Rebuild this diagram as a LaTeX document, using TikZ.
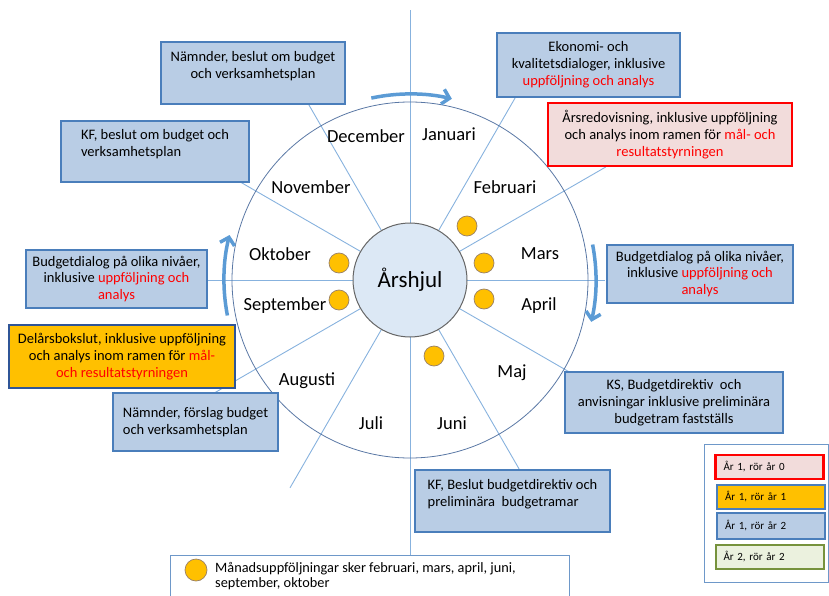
\documentclass[tikz,border=0pt]{standalone}
\usepackage{fontspec}
\setmainfont{Carlito}
\usepackage{xcolor}
\usepackage{tikz}
\usetikzlibrary{arrows.meta}
\definecolor{boxfill}{RGB}{185,205,229}
\definecolor{boxedge}{RGB}{74,126,187}
\definecolor{spokeblue}{RGB}{135,178,222}
\definecolor{rimblue}{RGB}{90,120,165}
\definecolor{hubfill}{RGB}{220,232,245}
\definecolor{dotorange}{RGB}{255,192,0}
\definecolor{pinkfill}{RGB}{242,220,219}
\definecolor{greenfill}{RGB}{235,241,222}
\definecolor{greenedge}{RGB}{118,146,60}
\definecolor{arrowblue}{RGB}{91,155,213}
\definecolor{navyedge}{RGB}{47,85,151}
\tikzset{bluebox/.style={draw=boxedge, fill=boxfill, line width=2pt, inner sep=4pt, align=center,
  font=\fontsize{14.5}{16.8}\selectfont},
redbox/.style={bluebox, draw=red, fill=pinkfill, line width=2.5pt},
orangebox/.style={bluebox, draw=navyedge, fill=dotorange},
legbox/.style={bluebox, line width=2pt, align=left, font=\fontsize{11}{13}\selectfont,
  text width=92pt, inner xsep=8pt, minimum height=24pt},
month/.style={font=\fontsize{18.5}{20}\selectfont},
spoke/.style={draw=spokeblue, line width=0.9pt},
mdot/.style={circle, draw=gray!60!brown, fill=dotorange, minimum size=20pt, inner sep=0pt, line width=0.7pt},
flow/.style={draw=arrowblue, line width=3.5pt, -{Straight Barb[length=7pt,width=15pt]}}}
\begin{document}
\begin{tikzpicture}[x=1pt, y=-1pt]
\useasboundingbox (0,0) rectangle (829,596);
\coordinate (c) at (410,280);
% spokes of the wheel
\foreach \ang/\len in {0/195, 30/226, 60/211, 90/270, 120/204, 150/208,
  180/203, 210/230, 240/240, 270/275, 300/219, 330/185}
  \draw[spoke] (c) -- ++(\ang:\len pt);
\draw[rimblue, line width=0.8pt] (c) circle[radius=178pt];
\node[circle, draw=gray!80!black, fill=hubfill, line width=1pt, minimum size=114pt,
  font=\fontsize{23}{26}\selectfont] (hub) at (c) {Årshjul};

% months
\node[month] (jan) at (449,134) {Januari};
\node[month] (feb) at (505,187) {Februari};
\node[month] (mar) at (540,254) {Mars};
\node[month] (apr) at (539,306) {April};
\node[month] (maj) at (512,373) {Maj};
\node[month] (jun) at (452,423) {Juni};
\node[month] (jul) at (371,423) {Juli};
\node[month] (aug) at (307,381) {Augusti};
\node[month] (sep) at (285,306) {September};
\node[month] (okt) at (280,254) {Oktober};
\node[month] (nov) at (311,187) {November};
\node[month] (dec) at (366,136) {December};

% monthly follow-ups
\node[mdot] (dfeb) at (467,226) {};
\node[mdot] (dmar) at (484,263) {};
\node[mdot] (dapr) at (484,299) {};
\node[mdot] (djun) at (434,356) {};
\node[mdot] (dokt) at (339,263) {};
\node[mdot] (dsep) at (339,300) {};

% direction of the year
\draw[flow] (c) ++(102:186pt) arc[start angle=102, end angle=77, radius=186pt];
\draw[flow] (c) ++(11:186pt) arc[start angle=11, end angle=-13, radius=186pt];
\draw[flow] (c) ++(191:186pt) arc[start angle=191, end angle=166, radius=186pt];

% activities
\node[bluebox, minimum width=184pt, minimum height=62pt] (nbeslut) at (253,73)
  {Nämnder, beslut om budget\\och verksamhetsplan\\ \mbox{}};
\node[bluebox, align=left, minimum width=188pt, minimum height=61pt] (kfbeslut) at (155,151.5)
  {KF, beslut om budget och\\verksamhetsplan\\ \mbox{}};
\node[bluebox, minimum width=181pt, minimum height=58pt] (bdleft) at (116.5,279)
  {Budgetdialog på olika nivåer,\\inklusive \textcolor{red}{uppföljning och}\\\textcolor{red}{analys}};
\node[orangebox, minimum width=226pt, minimum height=63pt] (delars) at (122,356.5)
  {Delårsbokslut, inklusive uppföljning\\och analys inom ramen för \textcolor{red}{mål-}\\\textcolor{red}{och resultatstyrningen}};
\node[bluebox, align=left, minimum width=165pt, minimum height=58pt] (nforslag) at (195.5,422)
  {Nämnder, förslag budget\\och verksamhetsplan};
\node[bluebox, minimum width=183pt, minimum height=64pt] (ekon) at (588.5,65)
  {Ekonomi- och\\kvalitetsdialoger, inklusive\\\textcolor{red}{uppföljning och analys}};
\node[redbox, minimum width=244pt, minimum height=63pt] (arsred) at (670,134.5)
  {Årsredovisning, inklusive uppföljning\\och analys inom ramen för \textcolor{red}{mål- och}\\\textcolor{red}{resultatstyrningen}};
\node[bluebox, minimum width=186pt, minimum height=58pt] (bdright) at (700,274)
  {Budgetdialog på olika nivåer,\\inklusive \textcolor{red}{uppföljning och}\\\textcolor{red}{analys}};
\node[bluebox, minimum width=218pt, minimum height=61pt] (ks) at (674,402.5)
  {KS, Budgetdirektiv~ och\\anvisningar inklusive preliminära\\budgetram fastställs};
\node[bluebox, align=left, minimum width=195pt, minimum height=62pt] (kfbd) at (512.5,501)
  {KF, Beslut budgetdirektiv och\\preliminära~ budgetramar\\ \mbox{}};

% legend
\node[draw=boxedge!80, fill=white, line width=0.8pt, minimum width=124pt, minimum height=138pt] (legend) at (766,513) {};
\node[legbox, draw=red, fill=pinkfill, line width=2.5pt] (leg0) at (769.5,467) {År 1, rör år 0};
\node[legbox, fill=dotorange] (leg1) at (771,496.5) {År 1, rör år 1};
\node[legbox, minimum height=26pt] (leg2) at (771,526) {År 1, rör år 2};
\node[legbox, draw=greenedge, fill=greenfill] (leg3) at (769.5,557) {År 2, rör år 2};

% note on monthly follow-ups
\node[draw=boxedge!80, fill=white, line width=0.8pt, anchor=north west, minimum width=399pt, minimum height=48pt] (note) at (170,555) {};
\node[mdot, minimum size=22pt] (notedot) at (196,570) {};
\node[anchor=north west, align=left, inner sep=0pt, font=\fontsize{14.3}{15.5}\selectfont] (notetext) at (215,562)
  {Månadsuppföljningar sker februari, mars, april, juni,\\september, oktober};
\end{tikzpicture}
\end{document}
